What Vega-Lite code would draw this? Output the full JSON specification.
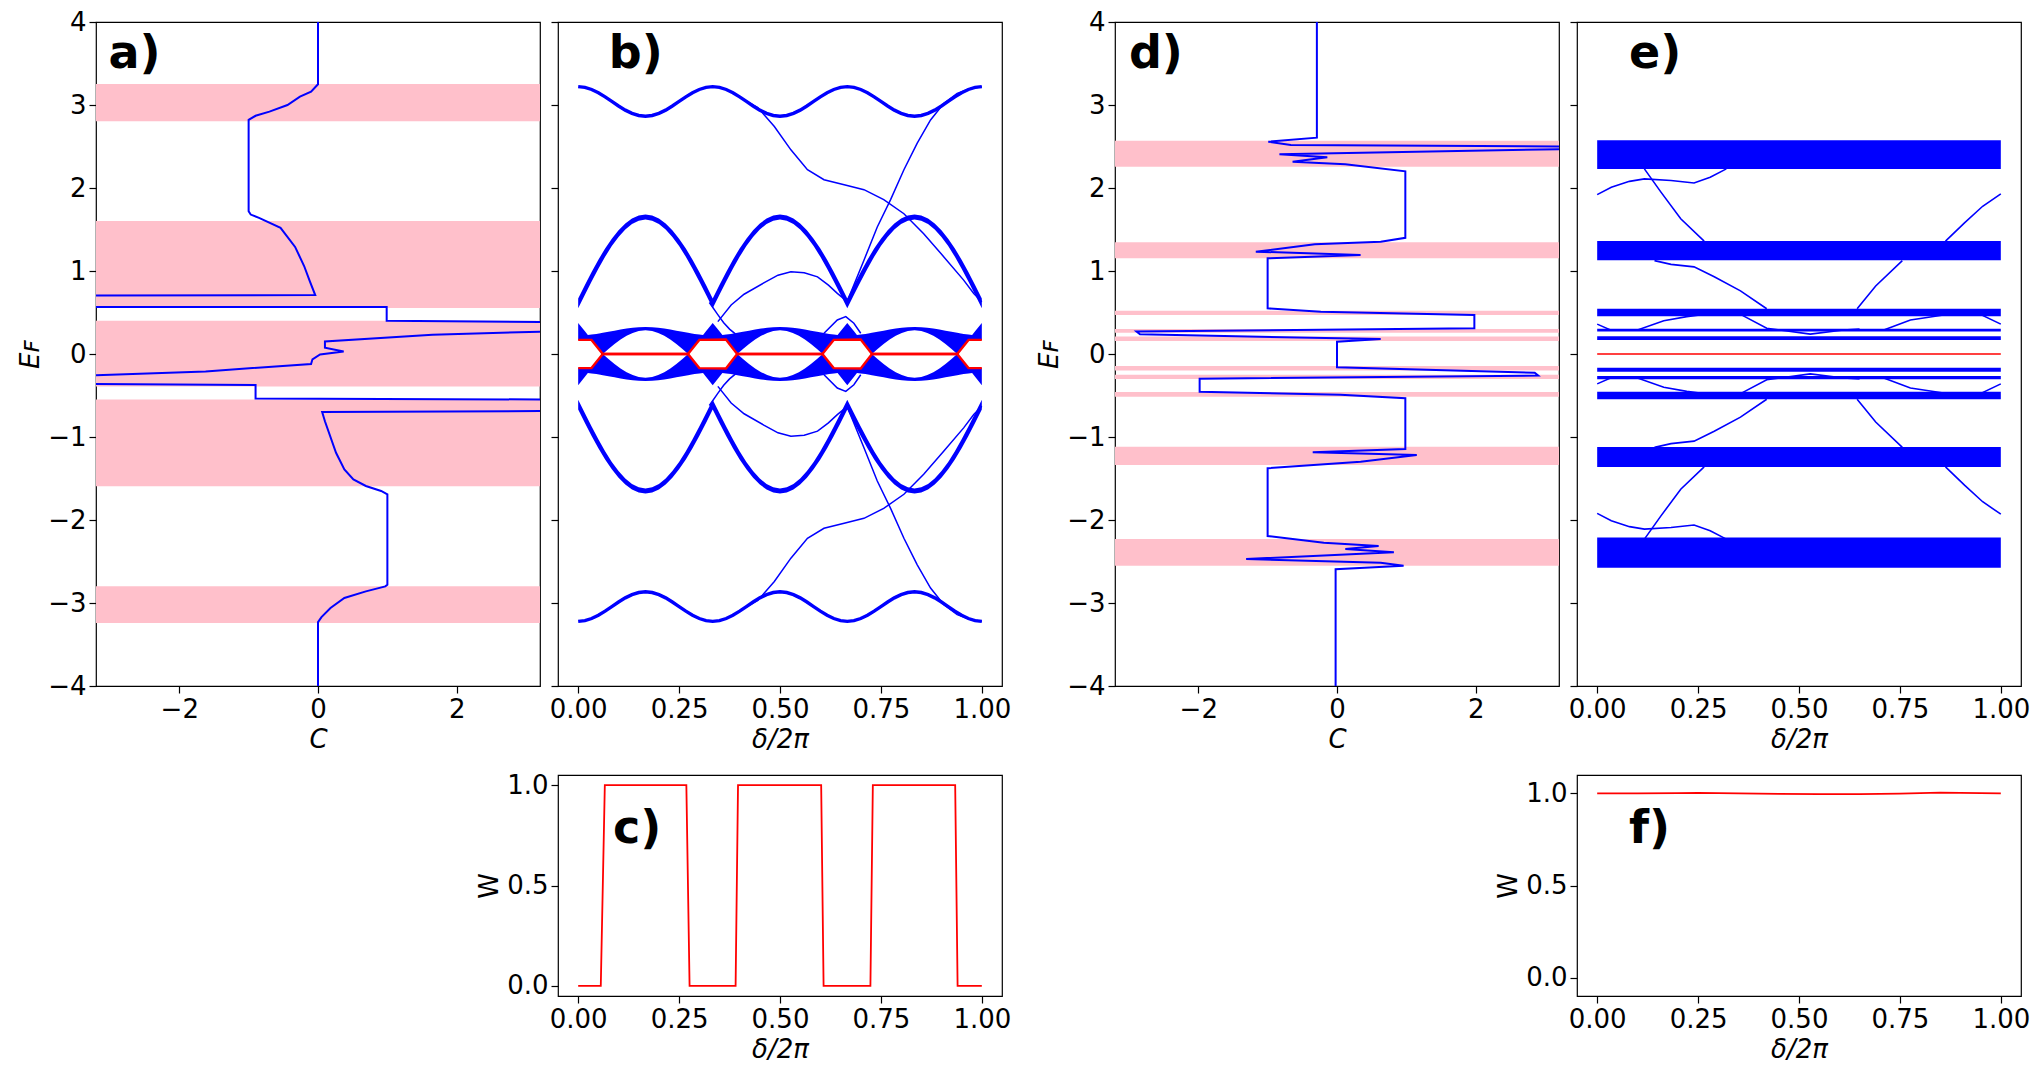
{
"$schema": "https://vega.github.io/schema/vega-lite/v6.json",
"background": "white",
"padding": {"left": 17, "top": 8, "right": 5, "bottom": 5},
"config": {
 "font": "DejaVu Sans",
 "view": {"stroke": "#000000", "strokeWidth": 1.2},
 "axis": {"domain": false, "grid": false, "ticks": true, "tickColor": "#000000", "tickSize": 7, "tickWidth": 1.2, "labelFont": "DejaVu Sans", "labelFontSize": 26, "labelColor": "#000000", "labelPadding": 3, "labelFlush": false, "labelOverlap": false, "labelExpr": "replace(datum.label, '-', '−')", "titleFont": "DejaVu Sans", "titleFontSize": 26, "titleFontWeight": "normal", "titleColor": "#000000", "titlePadding": 4}
},
"datasets": {
 "apink": [{"lo":2.805,"hi":3.254},{"lo":0.554,"hi":1.603},{"lo":-0.391,"hi":0.402},{"lo":-1.592,"hi":-0.548},{"lo":-3.242,"hi":-2.799}],
 "aline": [
  {"i":1,"C":0,"E":4},{"i":2,"C":0,"E":3.25},{"i":3,"C":-0.1,"E":3.16},{"i":4,"C":-0.26,"E":3.1},{"i":5,"C":-0.44,"E":3.0},{"i":6,"C":-0.7,"E":2.92},{"i":7,"C":-0.9,"E":2.87},{"i":8,"C":-1.0,"E":2.82},{"i":9,"C":-1.0,"E":1.72},{"i":10,"C":-0.97,"E":1.68},{"i":11,"C":-0.85,"E":1.64},{"i":12,"C":-0.54,"E":1.52},{"i":13,"C":-0.33,"E":1.29},{"i":14,"C":-0.2,"E":1.06},{"i":15,"C":-0.12,"E":0.88},{"i":16,"C":-0.04,"E":0.71},{"i":17,"C":-3.2,"E":0.705},{"i":18,"C":-10,"E":0.705},{"i":19,"C":-10,"E":0.567},{"i":20,"C":-3.2,"E":0.567},{"i":21,"C":0.99,"E":0.565},{"i":22,"C":0.99,"E":0.4},{"i":23,"C":3.2,"E":0.385},{"i":24,"C":10,"E":0.385},{"i":25,"C":10,"E":0.268},{"i":26,"C":3.2,"E":0.268},{"i":27,"C":1.65,"E":0.233},{"i":28,"C":0.1,"E":0.152},{"i":29,"C":0.1,"E":0.076},{"i":30,"C":0.37,"E":0.03},{"i":31,"C":0.03,"E":-0.006},{"i":32,"C":-0.08,"E":-0.064},{"i":33,"C":-0.1,"E":-0.12},{"i":34,"C":-1.62,"E":-0.21},{"i":35,"C":-3.2,"E":-0.257},{"i":36,"C":-10,"E":-0.257},{"i":37,"C":-10,"E":-0.362},{"i":38,"C":-3.2,"E":-0.362},{"i":39,"C":-0.9,"E":-0.373},{"i":40,"C":-0.9,"E":-0.536},{"i":41,"C":3.2,"E":-0.548},{"i":42,"C":10,"E":-0.548},{"i":43,"C":10,"E":-0.688},{"i":44,"C":3.2,"E":-0.688},{"i":45,"C":0.06,"E":-0.7},{"i":46,"C":0.1,"E":-0.81},{"i":47,"C":0.26,"E":-1.19},{"i":48,"C":0.38,"E":-1.39},{"i":49,"C":0.51,"E":-1.51},{"i":50,"C":0.69,"E":-1.59},{"i":51,"C":0.91,"E":-1.65},{"i":52,"C":1.0,"E":-1.69},{"i":53,"C":1.0,"E":-2.78},{"i":54,"C":0.97,"E":-2.8},{"i":55,"C":0.69,"E":-2.86},{"i":56,"C":0.38,"E":-2.94},{"i":57,"C":0.18,"E":-3.06},{"i":58,"C":0.05,"E":-3.17},{"i":59,"C":0,"E":-3.23},{"i":60,"C":0,"E":-4}
 ],
 "bands": [
  {"d":0,"b1":3.221,"l2":0.55,"h2":0.67,"b5":-3.221,"l4":-0.67,"h4":-0.55},
  {"d":0.0167,"b1":3.212,"l2":0.714,"h2":0.832,"b5":-3.212,"l4":-0.832,"h4":-0.714},
  {"d":0.0333,"b1":3.187,"l2":0.874,"h2":0.988,"b5":-3.187,"l4":-0.988,"h4":-0.874},
  {"d":0.05,"b1":3.148,"l2":1.028,"h2":1.136,"b5":-3.148,"l4":-1.136,"h4":-1.028},
  {"d":0.0667,"b1":3.098,"l2":1.171,"h2":1.271,"b5":-3.098,"l4":-1.271,"h4":-1.171},
  {"d":0.0833,"b1":3.043,"l2":1.3,"h2":1.39,"b5":-3.043,"l4":-1.39,"h4":-1.3},
  {"d":0.1,"b1":2.988,"l2":1.411,"h2":1.491,"b5":-2.988,"l4":-1.491,"h4":-1.411},
  {"d":0.1167,"b1":2.938,"l2":1.501,"h2":1.573,"b5":-2.938,"l4":-1.573,"h4":-1.501},
  {"d":0.1333,"b1":2.899,"l2":1.566,"h2":1.632,"b5":-2.899,"l4":-1.632,"h4":-1.566},
  {"d":0.15,"b1":2.874,"l2":1.606,"h2":1.668,"b5":-2.874,"l4":-1.668,"h4":-1.606},
  {"d":0.1667,"b1":2.865,"l2":1.62,"h2":1.68,"b5":-2.865,"l4":-1.68,"h4":-1.62},
  {"d":0.1833,"b1":2.874,"l2":1.606,"h2":1.668,"b5":-2.874,"l4":-1.668,"h4":-1.606},
  {"d":0.2,"b1":2.899,"l2":1.566,"h2":1.632,"b5":-2.899,"l4":-1.632,"h4":-1.566},
  {"d":0.2167,"b1":2.938,"l2":1.501,"h2":1.573,"b5":-2.938,"l4":-1.573,"h4":-1.501},
  {"d":0.2333,"b1":2.988,"l2":1.411,"h2":1.491,"b5":-2.988,"l4":-1.491,"h4":-1.411},
  {"d":0.25,"b1":3.043,"l2":1.3,"h2":1.39,"b5":-3.043,"l4":-1.39,"h4":-1.3},
  {"d":0.2667,"b1":3.098,"l2":1.171,"h2":1.271,"b5":-3.098,"l4":-1.271,"h4":-1.171},
  {"d":0.2833,"b1":3.148,"l2":1.028,"h2":1.136,"b5":-3.148,"l4":-1.136,"h4":-1.028},
  {"d":0.3,"b1":3.187,"l2":0.874,"h2":0.988,"b5":-3.187,"l4":-0.988,"h4":-0.874},
  {"d":0.3167,"b1":3.212,"l2":0.714,"h2":0.832,"b5":-3.212,"l4":-0.832,"h4":-0.714},
  {"d":0.3333,"b1":3.221,"l2":0.55,"h2":0.67,"b5":-3.221,"l4":-0.67,"h4":-0.55},
  {"d":0.35,"b1":3.212,"l2":0.714,"h2":0.832,"b5":-3.212,"l4":-0.832,"h4":-0.714},
  {"d":0.3667,"b1":3.187,"l2":0.874,"h2":0.988,"b5":-3.187,"l4":-0.988,"h4":-0.874},
  {"d":0.3833,"b1":3.148,"l2":1.028,"h2":1.136,"b5":-3.148,"l4":-1.136,"h4":-1.028},
  {"d":0.4,"b1":3.098,"l2":1.171,"h2":1.271,"b5":-3.098,"l4":-1.271,"h4":-1.171},
  {"d":0.4167,"b1":3.043,"l2":1.3,"h2":1.39,"b5":-3.043,"l4":-1.39,"h4":-1.3},
  {"d":0.4333,"b1":2.988,"l2":1.411,"h2":1.491,"b5":-2.988,"l4":-1.491,"h4":-1.411},
  {"d":0.45,"b1":2.938,"l2":1.501,"h2":1.573,"b5":-2.938,"l4":-1.573,"h4":-1.501},
  {"d":0.4667,"b1":2.899,"l2":1.566,"h2":1.632,"b5":-2.899,"l4":-1.632,"h4":-1.566},
  {"d":0.4833,"b1":2.874,"l2":1.606,"h2":1.668,"b5":-2.874,"l4":-1.668,"h4":-1.606},
  {"d":0.5,"b1":2.865,"l2":1.62,"h2":1.68,"b5":-2.865,"l4":-1.68,"h4":-1.62},
  {"d":0.5167,"b1":2.874,"l2":1.606,"h2":1.668,"b5":-2.874,"l4":-1.668,"h4":-1.606},
  {"d":0.5333,"b1":2.899,"l2":1.566,"h2":1.632,"b5":-2.899,"l4":-1.632,"h4":-1.566},
  {"d":0.55,"b1":2.938,"l2":1.501,"h2":1.573,"b5":-2.938,"l4":-1.573,"h4":-1.501},
  {"d":0.5667,"b1":2.988,"l2":1.411,"h2":1.491,"b5":-2.988,"l4":-1.491,"h4":-1.411},
  {"d":0.5833,"b1":3.043,"l2":1.3,"h2":1.39,"b5":-3.043,"l4":-1.39,"h4":-1.3},
  {"d":0.6,"b1":3.098,"l2":1.171,"h2":1.271,"b5":-3.098,"l4":-1.271,"h4":-1.171},
  {"d":0.6167,"b1":3.148,"l2":1.028,"h2":1.136,"b5":-3.148,"l4":-1.136,"h4":-1.028},
  {"d":0.6333,"b1":3.187,"l2":0.874,"h2":0.988,"b5":-3.187,"l4":-0.988,"h4":-0.874},
  {"d":0.65,"b1":3.212,"l2":0.714,"h2":0.832,"b5":-3.212,"l4":-0.832,"h4":-0.714},
  {"d":0.6667,"b1":3.221,"l2":0.55,"h2":0.67,"b5":-3.221,"l4":-0.67,"h4":-0.55},
  {"d":0.6833,"b1":3.212,"l2":0.714,"h2":0.832,"b5":-3.212,"l4":-0.832,"h4":-0.714},
  {"d":0.7,"b1":3.187,"l2":0.874,"h2":0.988,"b5":-3.187,"l4":-0.988,"h4":-0.874},
  {"d":0.7167,"b1":3.148,"l2":1.028,"h2":1.136,"b5":-3.148,"l4":-1.136,"h4":-1.028},
  {"d":0.7333,"b1":3.098,"l2":1.171,"h2":1.271,"b5":-3.098,"l4":-1.271,"h4":-1.171},
  {"d":0.75,"b1":3.043,"l2":1.3,"h2":1.39,"b5":-3.043,"l4":-1.39,"h4":-1.3},
  {"d":0.7667,"b1":2.988,"l2":1.411,"h2":1.491,"b5":-2.988,"l4":-1.491,"h4":-1.411},
  {"d":0.7833,"b1":2.938,"l2":1.501,"h2":1.573,"b5":-2.938,"l4":-1.573,"h4":-1.501},
  {"d":0.8,"b1":2.899,"l2":1.566,"h2":1.632,"b5":-2.899,"l4":-1.632,"h4":-1.566},
  {"d":0.8167,"b1":2.874,"l2":1.606,"h2":1.668,"b5":-2.874,"l4":-1.668,"h4":-1.606},
  {"d":0.8333,"b1":2.865,"l2":1.62,"h2":1.68,"b5":-2.865,"l4":-1.68,"h4":-1.62},
  {"d":0.85,"b1":2.874,"l2":1.606,"h2":1.668,"b5":-2.874,"l4":-1.668,"h4":-1.606},
  {"d":0.8667,"b1":2.899,"l2":1.566,"h2":1.632,"b5":-2.899,"l4":-1.632,"h4":-1.566},
  {"d":0.8833,"b1":2.938,"l2":1.501,"h2":1.573,"b5":-2.938,"l4":-1.573,"h4":-1.501},
  {"d":0.9,"b1":2.988,"l2":1.411,"h2":1.491,"b5":-2.988,"l4":-1.491,"h4":-1.411},
  {"d":0.9167,"b1":3.043,"l2":1.3,"h2":1.39,"b5":-3.043,"l4":-1.39,"h4":-1.3},
  {"d":0.9333,"b1":3.098,"l2":1.171,"h2":1.271,"b5":-3.098,"l4":-1.271,"h4":-1.171},
  {"d":0.95,"b1":3.148,"l2":1.028,"h2":1.136,"b5":-3.148,"l4":-1.136,"h4":-1.028},
  {"d":0.9667,"b1":3.187,"l2":0.874,"h2":0.988,"b5":-3.187,"l4":-0.988,"h4":-0.874},
  {"d":0.9833,"b1":3.212,"l2":0.714,"h2":0.832,"b5":-3.212,"l4":-0.832,"h4":-0.714},
  {"d":1,"b1":3.221,"l2":0.55,"h2":0.67,"b5":-3.221,"l4":-0.67,"h4":-0.55}
 ],
 "cband": [
  {"d":0,"lo":0.17,"hi":0.375,"nlo":-0.375,"nhi":-0.17},
  {"d":0.0167,"lo":0.17,"hi":0.274,"nlo":-0.274,"nhi":-0.17},
  {"d":0.024,"lo":0.17,"hi":0.23,"nlo":-0.23,"nhi":-0.17},
  {"d":0.033,"lo":0.17,"hi":0.234,"nlo":-0.234,"nhi":-0.17},
  {"d":0.045,"lo":0.097,"hi":0.242,"nlo":-0.242,"nhi":-0.097},
  {"d":0.055,"lo":0.036,"hi":0.25,"nlo":-0.25,"nhi":-0.036},
  {"d":0.061,"lo":0,"hi":0.255,"nlo":-0.255,"nhi":0},
  {"d":0.075,"lo":0.059,"hi":0.267,"nlo":-0.267,"nhi":-0.059},
  {"d":0.09,"lo":0.119,"hi":0.281,"nlo":-0.281,"nhi":-0.119},
  {"d":0.105,"lo":0.174,"hi":0.295,"nlo":-0.295,"nhi":-0.174},
  {"d":0.12,"lo":0.219,"hi":0.307,"nlo":-0.307,"nhi":-0.219},
  {"d":0.135,"lo":0.254,"hi":0.316,"nlo":-0.316,"nhi":-0.254},
  {"d":0.15,"lo":0.276,"hi":0.3225,"nlo":-0.3225,"nhi":-0.276},
  {"d":0.1667,"lo":0.285,"hi":0.325,"nlo":-0.325,"nhi":-0.285},
  {"d":0.1833,"lo":0.276,"hi":0.3225,"nlo":-0.3225,"nhi":-0.276},
  {"d":0.1983,"lo":0.254,"hi":0.316,"nlo":-0.316,"nhi":-0.254},
  {"d":0.2133,"lo":0.219,"hi":0.307,"nlo":-0.307,"nhi":-0.219},
  {"d":0.2283,"lo":0.174,"hi":0.295,"nlo":-0.295,"nhi":-0.174},
  {"d":0.2433,"lo":0.119,"hi":0.281,"nlo":-0.281,"nhi":-0.119},
  {"d":0.2583,"lo":0.059,"hi":0.267,"nlo":-0.267,"nhi":-0.059},
  {"d":0.2723,"lo":0,"hi":0.255,"nlo":-0.255,"nhi":0},
  {"d":0.2783,"lo":0.036,"hi":0.25,"nlo":-0.25,"nhi":-0.036},
  {"d":0.2883,"lo":0.097,"hi":0.242,"nlo":-0.242,"nhi":-0.097},
  {"d":0.3003,"lo":0.17,"hi":0.234,"nlo":-0.234,"nhi":-0.17},
  {"d":0.3093,"lo":0.17,"hi":0.23,"nlo":-0.23,"nhi":-0.17},
  {"d":0.3166,"lo":0.17,"hi":0.274,"nlo":-0.274,"nhi":-0.17},
  {"d":0.3333,"lo":0.17,"hi":0.375,"nlo":-0.375,"nhi":-0.17},
  {"d":0.35,"lo":0.17,"hi":0.274,"nlo":-0.274,"nhi":-0.17},
  {"d":0.3573,"lo":0.17,"hi":0.23,"nlo":-0.23,"nhi":-0.17},
  {"d":0.3663,"lo":0.17,"hi":0.234,"nlo":-0.234,"nhi":-0.17},
  {"d":0.3783,"lo":0.097,"hi":0.242,"nlo":-0.242,"nhi":-0.097},
  {"d":0.3883,"lo":0.036,"hi":0.25,"nlo":-0.25,"nhi":-0.036},
  {"d":0.3943,"lo":0,"hi":0.255,"nlo":-0.255,"nhi":0},
  {"d":0.4083,"lo":0.059,"hi":0.267,"nlo":-0.267,"nhi":-0.059},
  {"d":0.4233,"lo":0.119,"hi":0.281,"nlo":-0.281,"nhi":-0.119},
  {"d":0.4383,"lo":0.174,"hi":0.295,"nlo":-0.295,"nhi":-0.174},
  {"d":0.4533,"lo":0.219,"hi":0.307,"nlo":-0.307,"nhi":-0.219},
  {"d":0.4683,"lo":0.254,"hi":0.316,"nlo":-0.316,"nhi":-0.254},
  {"d":0.4833,"lo":0.276,"hi":0.3225,"nlo":-0.3225,"nhi":-0.276},
  {"d":0.5,"lo":0.285,"hi":0.325,"nlo":-0.325,"nhi":-0.285},
  {"d":0.5167,"lo":0.276,"hi":0.3225,"nlo":-0.3225,"nhi":-0.276},
  {"d":0.5317,"lo":0.254,"hi":0.316,"nlo":-0.316,"nhi":-0.254},
  {"d":0.5467,"lo":0.219,"hi":0.307,"nlo":-0.307,"nhi":-0.219},
  {"d":0.5617,"lo":0.174,"hi":0.295,"nlo":-0.295,"nhi":-0.174},
  {"d":0.5767,"lo":0.119,"hi":0.281,"nlo":-0.281,"nhi":-0.119},
  {"d":0.5917,"lo":0.059,"hi":0.267,"nlo":-0.267,"nhi":-0.059},
  {"d":0.6057,"lo":0,"hi":0.255,"nlo":-0.255,"nhi":0},
  {"d":0.6117,"lo":0.036,"hi":0.25,"nlo":-0.25,"nhi":-0.036},
  {"d":0.6217,"lo":0.097,"hi":0.242,"nlo":-0.242,"nhi":-0.097},
  {"d":0.6337,"lo":0.17,"hi":0.234,"nlo":-0.234,"nhi":-0.17},
  {"d":0.6427,"lo":0.17,"hi":0.23,"nlo":-0.23,"nhi":-0.17},
  {"d":0.65,"lo":0.17,"hi":0.274,"nlo":-0.274,"nhi":-0.17},
  {"d":0.6667,"lo":0.17,"hi":0.375,"nlo":-0.375,"nhi":-0.17},
  {"d":0.6834,"lo":0.17,"hi":0.274,"nlo":-0.274,"nhi":-0.17},
  {"d":0.6907,"lo":0.17,"hi":0.23,"nlo":-0.23,"nhi":-0.17},
  {"d":0.6997,"lo":0.17,"hi":0.234,"nlo":-0.234,"nhi":-0.17},
  {"d":0.7117,"lo":0.097,"hi":0.242,"nlo":-0.242,"nhi":-0.097},
  {"d":0.7217,"lo":0.036,"hi":0.25,"nlo":-0.25,"nhi":-0.036},
  {"d":0.7277,"lo":0,"hi":0.255,"nlo":-0.255,"nhi":0},
  {"d":0.7417,"lo":0.059,"hi":0.267,"nlo":-0.267,"nhi":-0.059},
  {"d":0.7567,"lo":0.119,"hi":0.281,"nlo":-0.281,"nhi":-0.119},
  {"d":0.7717,"lo":0.174,"hi":0.295,"nlo":-0.295,"nhi":-0.174},
  {"d":0.7867,"lo":0.219,"hi":0.307,"nlo":-0.307,"nhi":-0.219},
  {"d":0.8017,"lo":0.254,"hi":0.316,"nlo":-0.316,"nhi":-0.254},
  {"d":0.8167,"lo":0.276,"hi":0.3225,"nlo":-0.3225,"nhi":-0.276},
  {"d":0.8334,"lo":0.285,"hi":0.325,"nlo":-0.325,"nhi":-0.285},
  {"d":0.85,"lo":0.276,"hi":0.3225,"nlo":-0.3225,"nhi":-0.276},
  {"d":0.865,"lo":0.254,"hi":0.316,"nlo":-0.316,"nhi":-0.254},
  {"d":0.88,"lo":0.219,"hi":0.307,"nlo":-0.307,"nhi":-0.219},
  {"d":0.895,"lo":0.174,"hi":0.295,"nlo":-0.295,"nhi":-0.174},
  {"d":0.91,"lo":0.119,"hi":0.281,"nlo":-0.281,"nhi":-0.119},
  {"d":0.925,"lo":0.059,"hi":0.267,"nlo":-0.267,"nhi":-0.059},
  {"d":0.939,"lo":0,"hi":0.255,"nlo":-0.255,"nhi":0},
  {"d":0.945,"lo":0.036,"hi":0.25,"nlo":-0.25,"nhi":-0.036},
  {"d":0.955,"lo":0.097,"hi":0.242,"nlo":-0.242,"nhi":-0.097},
  {"d":0.967,"lo":0.17,"hi":0.234,"nlo":-0.234,"nhi":-0.17},
  {"d":0.976,"lo":0.17,"hi":0.23,"nlo":-0.23,"nhi":-0.17},
  {"d":0.9833,"lo":0.17,"hi":0.274,"nlo":-0.274,"nhi":-0.17},
  {"d":1,"lo":0.17,"hi":0.375,"nlo":-0.375,"nhi":-0.17}
 ],
 "bthin": [
  {"id":"T1","d":0.405,"E":3.08},{"id":"T1","d":0.445,"E":2.97},{"id":"T1","d":0.486,"E":2.74},{"id":"T1","d":0.527,"E":2.46},{"id":"T1","d":0.568,"E":2.22},{"id":"T1","d":0.609,"E":2.1},{"id":"T1","d":0.659,"E":2.04},{"id":"T1","d":0.708,"E":1.98},{"id":"T1","d":0.757,"E":1.86},{"id":"T1","d":0.807,"E":1.69},{"id":"T1","d":0.856,"E":1.45},{"id":"T1","d":0.906,"E":1.17},{"id":"T1","d":0.955,"E":0.89},{"id":"T1","d":0.98,"E":0.73},{"id":"T1","d":1.0,"E":0.63},
  {"id":"T2","d":0.667,"E":0.64},{"id":"T2","d":0.708,"E":1.13},{"id":"T2","d":0.741,"E":1.53},{"id":"T2","d":0.774,"E":1.86},{"id":"T2","d":0.807,"E":2.22},{"id":"T2","d":0.84,"E":2.54},{"id":"T2","d":0.873,"E":2.82},{"id":"T2","d":0.906,"E":3.02},{"id":"T2","d":0.939,"E":3.14},{"id":"T2","d":0.972,"E":3.2},{"id":"T2","d":1.0,"E":3.22},
  {"id":"L1","d":0.346,"E":0.39},{"id":"L1","d":0.379,"E":0.59},{"id":"L1","d":0.411,"E":0.72},{"id":"L1","d":0.461,"E":0.86},{"id":"L1","d":0.495,"E":0.95},{"id":"L1","d":0.527,"E":0.99},{"id":"L1","d":0.56,"E":0.98},{"id":"L1","d":0.593,"E":0.93},{"id":"L1","d":0.62,"E":0.83},{"id":"L1","d":0.642,"E":0.73},{"id":"L1","d":0.667,"E":0.63},
  {"id":"L2","d":0.609,"E":0.25},{"id":"L2","d":0.642,"E":0.41},{"id":"L2","d":0.663,"E":0.45},{"id":"L2","d":0.683,"E":0.37},{"id":"L2","d":0.7,"E":0.25},
  {"id":"L3","d":0.325,"E":0.62},{"id":"L3","d":0.345,"E":0.48},{"id":"L3","d":0.36,"E":0.38},{"id":"L3","d":0.375,"E":0.3},{"id":"L3","d":0.39,"E":0.24},
  {"id":"T1m","d":0.405,"E":-3.08},{"id":"T1m","d":0.445,"E":-2.97},{"id":"T1m","d":0.486,"E":-2.74},{"id":"T1m","d":0.527,"E":-2.46},{"id":"T1m","d":0.568,"E":-2.22},{"id":"T1m","d":0.609,"E":-2.1},{"id":"T1m","d":0.659,"E":-2.04},{"id":"T1m","d":0.708,"E":-1.98},{"id":"T1m","d":0.757,"E":-1.86},{"id":"T1m","d":0.807,"E":-1.69},{"id":"T1m","d":0.856,"E":-1.45},{"id":"T1m","d":0.906,"E":-1.17},{"id":"T1m","d":0.955,"E":-0.89},{"id":"T1m","d":0.98,"E":-0.73},{"id":"T1m","d":1.0,"E":-0.63},
  {"id":"T2m","d":0.667,"E":-0.64},{"id":"T2m","d":0.708,"E":-1.13},{"id":"T2m","d":0.741,"E":-1.53},{"id":"T2m","d":0.774,"E":-1.86},{"id":"T2m","d":0.807,"E":-2.22},{"id":"T2m","d":0.84,"E":-2.54},{"id":"T2m","d":0.873,"E":-2.82},{"id":"T2m","d":0.906,"E":-3.02},{"id":"T2m","d":0.939,"E":-3.14},{"id":"T2m","d":0.972,"E":-3.2},{"id":"T2m","d":1.0,"E":-3.22},
  {"id":"L1m","d":0.346,"E":-0.39},{"id":"L1m","d":0.379,"E":-0.59},{"id":"L1m","d":0.411,"E":-0.72},{"id":"L1m","d":0.461,"E":-0.86},{"id":"L1m","d":0.495,"E":-0.95},{"id":"L1m","d":0.527,"E":-0.99},{"id":"L1m","d":0.56,"E":-0.98},{"id":"L1m","d":0.593,"E":-0.93},{"id":"L1m","d":0.62,"E":-0.83},{"id":"L1m","d":0.642,"E":-0.73},{"id":"L1m","d":0.667,"E":-0.63},
  {"id":"L2m","d":0.609,"E":-0.25},{"id":"L2m","d":0.642,"E":-0.41},{"id":"L2m","d":0.663,"E":-0.45},{"id":"L2m","d":0.683,"E":-0.37},{"id":"L2m","d":0.7,"E":-0.25},
  {"id":"L3m","d":0.325,"E":-0.62},{"id":"L3m","d":0.345,"E":-0.48},{"id":"L3m","d":0.36,"E":-0.38},{"id":"L3m","d":0.375,"E":-0.3},{"id":"L3m","d":0.39,"E":-0.24}
 ],
 "bred": [
  {"id":"up","d":0,"E":0.17},{"id":"up","d":0.033,"E":0.17},{"id":"up","d":0.061,"E":0},{"id":"up","d":0.272,"E":0},{"id":"up","d":0.3,"E":0.17},{"id":"up","d":0.366,"E":0.175},{"id":"up","d":0.394,"E":0},{"id":"up","d":0.605,"E":0},{"id":"up","d":0.633,"E":0.17},{"id":"up","d":0.7,"E":0.175},{"id":"up","d":0.728,"E":0},{"id":"up","d":0.939,"E":0},{"id":"up","d":0.967,"E":0.17},{"id":"up","d":1,"E":0.17},
  {"id":"dn","d":0,"E":-0.17},{"id":"dn","d":0.033,"E":-0.17},{"id":"dn","d":0.061,"E":0},{"id":"dn","d":0.272,"E":0},{"id":"dn","d":0.3,"E":-0.17},{"id":"dn","d":0.366,"E":-0.175},{"id":"dn","d":0.394,"E":0},{"id":"dn","d":0.605,"E":0},{"id":"dn","d":0.633,"E":-0.17},{"id":"dn","d":0.7,"E":-0.175},{"id":"dn","d":0.728,"E":0},{"id":"dn","d":0.939,"E":0},{"id":"dn","d":0.967,"E":-0.17},{"id":"dn","d":1,"E":-0.17}
 ],
 "cW": [{"d":0,"W":0},{"d":0.056,"W":0},{"d":0.066,"W":1},{"d":0.268,"W":1},{"d":0.276,"W":0},{"d":0.39,"W":0},{"d":0.396,"W":1},{"d":0.602,"W":1},{"d":0.608,"W":0},{"d":0.724,"W":0},{"d":0.73,"W":1},{"d":0.934,"W":1},{"d":0.94,"W":0},{"d":1,"W":0}],
 "dpink": [{"lo":2.257,"hi":2.57},{"lo":1.153,"hi":1.345},{"lo":0.47,"hi":0.52},{"lo":0.257,"hi":0.3},{"lo":0.157,"hi":0.21},{"lo":-0.2,"hi":-0.145},{"lo":-0.3,"hi":-0.25},{"lo":-0.514,"hi":-0.458},{"lo":-1.337,"hi":-1.116},{"lo":-2.55,"hi":-2.229}],
 "dline": [
  {"i":1,"C":-0.29,"E":4},{"i":2,"C":-0.29,"E":2.606},{"i":3,"C":-0.99,"E":2.558},{"i":4,"C":-0.665,"E":2.518},{"i":5,"C":3.2,"E":2.5},{"i":6,"C":10,"E":2.5},{"i":7,"C":10,"E":2.467},{"i":8,"C":3.2,"E":2.467},{"i":9,"C":-0.83,"E":2.406},{"i":10,"C":-0.14,"E":2.37},{"i":11,"C":-0.64,"E":2.317},{"i":12,"C":0.12,"E":2.285},{"i":13,"C":0.985,"E":2.201},{"i":14,"C":0.985,"E":1.4},{"i":15,"C":0.63,"E":1.353},{"i":16,"C":-0.32,"E":1.321},{"i":17,"C":-1.17,"E":1.233},{"i":18,"C":0.34,"E":1.193},{"i":19,"C":-1.0,"E":1.153},{"i":20,"C":-1.0,"E":0.55},{"i":21,"C":-0.234,"E":0.51},{"i":22,"C":1.98,"E":0.47},{"i":23,"C":1.98,"E":0.31},{"i":24,"C":-2.89,"E":0.27},{"i":25,"C":-2.84,"E":0.237},{"i":26,"C":0.63,"E":0.18},{"i":27,"C":0.0,"E":0.148},{"i":28,"C":0.0,"E":-0.16},{"i":29,"C":2.85,"E":-0.225},{"i":30,"C":2.9,"E":-0.26},{"i":31,"C":-1.98,"E":-0.297},{"i":32,"C":-1.98,"E":-0.454},{"i":33,"C":0.05,"E":-0.492},{"i":34,"C":0.985,"E":-0.534},{"i":35,"C":0.985,"E":-1.145},{"i":36,"C":-0.35,"E":-1.185},{"i":37,"C":1.15,"E":-1.217},{"i":38,"C":0.34,"E":-1.297},{"i":39,"C":-1.0,"E":-1.377},{"i":40,"C":-1.0,"E":-2.193},{"i":41,"C":-0.19,"E":-2.273},{"i":42,"C":0.6,"E":-2.313},{"i":43,"C":0.12,"E":-2.35},{"i":44,"C":0.82,"E":-2.389},{"i":45,"C":-1.31,"E":-2.47},{"i":46,"C":0.63,"E":-2.514},{"i":47,"C":0.96,"E":-2.55},{"i":48,"C":-0.02,"E":-2.594},{"i":49,"C":-0.02,"E":-4}
 ],
 "ebands": [{"lo":2.23,"hi":2.575},{"lo":1.13,"hi":1.36},{"lo":0.455,"hi":0.545},{"lo":0.27,"hi":0.305},{"lo":0.17,"hi":0.215},{"lo":-0.215,"hi":-0.165},{"lo":-0.305,"hi":-0.265},{"lo":-0.545,"hi":-0.455},{"lo":-1.36,"hi":-1.12},{"lo":-2.575,"hi":-2.21}],
 "ethin": [
  {"id":"U1","d":0,"E":1.92},{"id":"U1","d":0.035,"E":2.01},{"id":"U1","d":0.08,"E":2.08},{"id":"U1","d":0.117,"E":2.11},{"id":"U1","d":0.183,"E":2.09},{"id":"U1","d":0.24,"E":2.06},{"id":"U1","d":0.28,"E":2.13},{"id":"U1","d":0.32,"E":2.23},
  {"id":"U2","d":0.117,"E":2.23},{"id":"U2","d":0.158,"E":1.95},{"id":"U2","d":0.207,"E":1.63},{"id":"U2","d":0.265,"E":1.36},
  {"id":"U3","d":0.863,"E":1.36},{"id":"U3","d":0.91,"E":1.58},{"id":"U3","d":0.955,"E":1.78},{"id":"U3","d":1.0,"E":1.93},
  {"id":"U4","d":0.142,"E":1.125},{"id":"U4","d":0.183,"E":1.08},{"id":"U4","d":0.24,"E":1.05},{"id":"U4","d":0.29,"E":0.93},{"id":"U4","d":0.355,"E":0.76},{"id":"U4","d":0.42,"E":0.545},
  {"id":"U5","d":0.644,"E":0.545},{"id":"U5","d":0.69,"E":0.82},{"id":"U5","d":0.756,"E":1.125},
  {"id":"U6","d":0,"E":0.36},{"id":"U6","d":0.033,"E":0.29},{"id":"U6","d":0.1,"E":0.29},{"id":"U6","d":0.165,"E":0.4},{"id":"U6","d":0.222,"E":0.45},{"id":"U6","d":0.3,"E":0.5},
  {"id":"U7","d":0.354,"E":0.48},{"id":"U7","d":0.42,"E":0.31},{"id":"U7","d":0.528,"E":0.24},{"id":"U7","d":0.61,"E":0.29},{"id":"U7","d":0.65,"E":0.3},
  {"id":"U8","d":0.71,"E":0.29},{"id":"U8","d":0.776,"E":0.41},{"id":"U8","d":0.858,"E":0.47},{"id":"U8","d":0.94,"E":0.5},{"id":"U8","d":1.0,"E":0.36},
  {"id":"D1","d":0,"E":-1.92},{"id":"D1","d":0.035,"E":-2.01},{"id":"D1","d":0.08,"E":-2.08},{"id":"D1","d":0.117,"E":-2.11},{"id":"D1","d":0.183,"E":-2.09},{"id":"D1","d":0.24,"E":-2.06},{"id":"D1","d":0.28,"E":-2.13},{"id":"D1","d":0.32,"E":-2.23},
  {"id":"D2","d":0.117,"E":-2.23},{"id":"D2","d":0.158,"E":-1.95},{"id":"D2","d":0.207,"E":-1.63},{"id":"D2","d":0.265,"E":-1.36},
  {"id":"D3","d":0.863,"E":-1.36},{"id":"D3","d":0.91,"E":-1.58},{"id":"D3","d":0.955,"E":-1.78},{"id":"D3","d":1.0,"E":-1.93},
  {"id":"D4","d":0.142,"E":-1.125},{"id":"D4","d":0.183,"E":-1.08},{"id":"D4","d":0.24,"E":-1.05},{"id":"D4","d":0.29,"E":-0.93},{"id":"D4","d":0.355,"E":-0.76},{"id":"D4","d":0.42,"E":-0.545},
  {"id":"D5","d":0.644,"E":-0.545},{"id":"D5","d":0.69,"E":-0.82},{"id":"D5","d":0.756,"E":-1.125},
  {"id":"D6","d":0,"E":-0.36},{"id":"D6","d":0.033,"E":-0.29},{"id":"D6","d":0.1,"E":-0.29},{"id":"D6","d":0.165,"E":-0.4},{"id":"D6","d":0.222,"E":-0.45},{"id":"D6","d":0.3,"E":-0.5},
  {"id":"D7","d":0.354,"E":-0.48},{"id":"D7","d":0.42,"E":-0.31},{"id":"D7","d":0.528,"E":-0.24},{"id":"D7","d":0.61,"E":-0.29},{"id":"D7","d":0.65,"E":-0.3},
  {"id":"D8","d":0.71,"E":-0.29},{"id":"D8","d":0.776,"E":-0.41},{"id":"D8","d":0.858,"E":-0.47},{"id":"D8","d":0.94,"E":-0.5},{"id":"D8","d":1.0,"E":-0.36}
 ],
 "fW": [{"d":0,"W":1.0},{"d":0.1,"W":1.0},{"d":0.2,"W":1.002},{"d":0.25,"W":1.003},{"d":0.35,"W":1.0},{"d":0.45,"W":0.998},{"d":0.55,"W":0.996},{"d":0.65,"W":0.996},{"d":0.75,"W":0.999},{"d":0.85,"W":1.004},{"d":0.9,"W":1.003},{"d":1,"W":1.0}],
 "blank": [{"k": 0}]
},
"bounds": "flush",
"align": "each",
"columns": 5,
"spacing": {"row": 89, "column": 18},
"concat": [
  {"width": 444, "height": 664, "layer": [
   {"data": {"name": "apink"}, "mark": {"type": "rect", "color": "#ffc0cb"},
    "encoding": {"y": {"field": "lo", "type": "quantitative", "scale": {"domain": [-4, 4], "nice": false}, "axis": {"values": [-4,-3,-2,-1,0,1,2,3,4], "format": "d", "title": "Eꜰ", "titleFontStyle": "italic"}}, "y2": {"field": "hi"}}},
   {"data": {"name": "aline"}, "mark": {"type": "line", "color": "#0000ff", "strokeWidth": 2, "clip": true},
    "encoding": {"x": {"field": "C", "type": "quantitative", "scale": {"domain": [-3.2, 3.2], "nice": false, "zero": false}, "axis": {"values": [-2, 0, 2], "format": "d", "title": "C", "titleFontStyle": "italic"}},
     "y": {"field": "E", "type": "quantitative", "scale": {"domain": [-4, 4], "nice": false}, "axis": {"values": [-4,-3,-2,-1,0,1,2,3,4], "format": "d", "title": "Eꜰ", "titleFontStyle": "italic"}},
     "order": {"field": "i", "type": "quantitative"}}},
   {"data": {"values": [{"C": -3.02, "E": 3.62, "t": "a)"}]}, "mark": {"type": "text", "font": "DejaVu Sans", "fontWeight": "bold", "fontSize": 46, "align": "left", "baseline": "middle", "color": "#000000"},
    "encoding": {"x": {"field": "C", "type": "quantitative"}, "y": {"field": "E", "type": "quantitative"}, "text": {"field": "t"}}}
  ]},
  {"width": 444, "height": 664, "layer": [
    {"data": {"name": "bands"}, "mark": {"type": "line", "color": "#0000ff", "strokeWidth": 3.4},
     "encoding": {"x": {"field": "d", "type": "quantitative", "scale": {"domain": [-0.05, 1.05], "nice": false, "zero": false}, "axis": {"values": [0, 0.25, 0.5, 0.75, 1], "format": ".2f", "title": "δ/2π", "titleFontStyle": "italic"}},
      "y": {"field": "b1", "type": "quantitative", "scale": {"domain": [-4, 4], "nice": false}, "axis": {"values": [-4,-3,-2,-1,0,1,2,3,4], "labels": false, "title": null}}}},
    {"data": {"name": "bands"}, "mark": {"type": "line", "color": "#0000ff", "strokeWidth": 3.4},
     "encoding": {"x": {"field": "d", "type": "quantitative"}, "y": {"field": "b5", "type": "quantitative", "scale": {"domain": [-4, 4], "nice": false}, "axis": {"values": [-4,-3,-2,-1,0,1,2,3,4], "labels": false, "title": null}}}},
    {"data": {"name": "bands"}, "mark": {"type": "area", "color": "#0000ff", "opacity": 1},
     "encoding": {"x": {"field": "d", "type": "quantitative"}, "y": {"field": "l2", "type": "quantitative", "scale": {"domain": [-4, 4], "nice": false}, "axis": {"values": [-4,-3,-2,-1,0,1,2,3,4], "labels": false, "title": null}}, "y2": {"field": "h2"}}},
    {"data": {"name": "bands"}, "mark": {"type": "area", "color": "#0000ff", "opacity": 1},
     "encoding": {"x": {"field": "d", "type": "quantitative"}, "y": {"field": "l4", "type": "quantitative", "scale": {"domain": [-4, 4], "nice": false}, "axis": {"values": [-4,-3,-2,-1,0,1,2,3,4], "labels": false, "title": null}}, "y2": {"field": "h4"}}},
    {"data": {"name": "cband"}, "mark": {"type": "area", "color": "#0000ff", "opacity": 1},
     "encoding": {"x": {"field": "d", "type": "quantitative"}, "y": {"field": "lo", "type": "quantitative", "scale": {"domain": [-4, 4], "nice": false}, "axis": {"values": [-4,-3,-2,-1,0,1,2,3,4], "labels": false, "title": null}}, "y2": {"field": "hi"}}},
    {"data": {"name": "cband"}, "mark": {"type": "area", "color": "#0000ff", "opacity": 1},
     "encoding": {"x": {"field": "d", "type": "quantitative"}, "y": {"field": "nlo", "type": "quantitative", "scale": {"domain": [-4, 4], "nice": false}, "axis": {"values": [-4,-3,-2,-1,0,1,2,3,4], "labels": false, "title": null}}, "y2": {"field": "nhi"}}},
    {"data": {"name": "bthin"}, "mark": {"type": "line", "color": "#0000ff", "strokeWidth": 1.5},
     "encoding": {"x": {"field": "d", "type": "quantitative"}, "y": {"field": "E", "type": "quantitative", "scale": {"domain": [-4, 4], "nice": false}, "axis": {"values": [-4,-3,-2,-1,0,1,2,3,4], "labels": false, "title": null}}, "detail": {"field": "id"}}},
    {"data": {"name": "bred"}, "mark": {"type": "line", "color": "#ff0000", "strokeWidth": 2.4},
     "encoding": {"x": {"field": "d", "type": "quantitative"}, "y": {"field": "E", "type": "quantitative", "scale": {"domain": [-4, 4], "nice": false}, "axis": {"values": [-4,-3,-2,-1,0,1,2,3,4], "labels": false, "title": null}}, "detail": {"field": "id"}}},
    {"data": {"values": [{"d": 0.076, "E": 3.62, "t": "b)"}]}, "mark": {"type": "text", "font": "DejaVu Sans", "fontWeight": "bold", "fontSize": 46, "align": "left", "baseline": "middle", "color": "#000000"},
     "encoding": {"x": {"field": "d", "type": "quantitative"}, "y": {"field": "E", "type": "quantitative", "scale": {"domain": [-4, 4], "nice": false}, "axis": {"values": [-4,-3,-2,-1,0,1,2,3,4], "labels": false, "title": null}}, "text": {"field": "t"}}}
  ]},
  {"width": 77, "height": 664, "view": {"stroke": null}, "data": {"name": "blank"}, "mark": {"type": "point", "opacity": 0}},
  {"width": 444, "height": 664, "layer": [
   {"data": {"name": "dpink"}, "mark": {"type": "rect", "color": "#ffc0cb"},
    "encoding": {"y": {"field": "lo", "type": "quantitative", "scale": {"domain": [-4, 4], "nice": false}, "axis": {"values": [-4,-3,-2,-1,0,1,2,3,4], "format": "d", "title": "Eꜰ", "titleFontStyle": "italic"}}, "y2": {"field": "hi"}}},
   {"data": {"name": "dline"}, "mark": {"type": "line", "color": "#0000ff", "strokeWidth": 2, "clip": true},
    "encoding": {"x": {"field": "C", "type": "quantitative", "scale": {"domain": [-3.2, 3.2], "nice": false, "zero": false}, "axis": {"values": [-2, 0, 2], "format": "d", "title": "C", "titleFontStyle": "italic"}},
     "y": {"field": "E", "type": "quantitative", "scale": {"domain": [-4, 4], "nice": false}, "axis": {"values": [-4,-3,-2,-1,0,1,2,3,4], "format": "d", "title": "Eꜰ", "titleFontStyle": "italic"}},
     "order": {"field": "i", "type": "quantitative"}}},
   {"data": {"values": [{"C": -3.0, "E": 3.62, "t": "d)"}]}, "mark": {"type": "text", "font": "DejaVu Sans", "fontWeight": "bold", "fontSize": 46, "align": "left", "baseline": "middle", "color": "#000000"},
    "encoding": {"x": {"field": "C", "type": "quantitative"}, "y": {"field": "E", "type": "quantitative"}, "text": {"field": "t"}}}
  ]},
  {"width": 444, "height": 664, "layer": [
    {"data": {"name": "ebands"}, "mark": {"type": "rect", "color": "#0000ff"},
     "encoding": {"x": {"datum": 0, "type": "quantitative", "scale": {"domain": [-0.05, 1.05], "nice": false, "zero": false}, "axis": {"values": [0, 0.25, 0.5, 0.75, 1], "format": ".2f", "title": "δ/2π", "titleFontStyle": "italic"}}, "x2": {"datum": 1},
      "y": {"field": "lo", "type": "quantitative", "scale": {"domain": [-4, 4], "nice": false}, "axis": {"values": [-4,-3,-2,-1,0,1,2,3,4], "labels": false, "title": null}}, "y2": {"field": "hi"}}},
    {"data": {"name": "ethin"}, "mark": {"type": "line", "color": "#0000ff", "strokeWidth": 1.6},
     "encoding": {"x": {"field": "d", "type": "quantitative", "scale": {"domain": [-0.05, 1.05], "nice": false, "zero": false}, "axis": {"values": [0, 0.25, 0.5, 0.75, 1], "format": ".2f", "title": "δ/2π", "titleFontStyle": "italic"}},
      "y": {"field": "E", "type": "quantitative", "scale": {"domain": [-4, 4], "nice": false}, "axis": {"values": [-4,-3,-2,-1,0,1,2,3,4], "labels": false, "title": null}}, "detail": {"field": "id"}}},
    {"data": {"values": [{"d": 0, "E": 0}, {"d": 1, "E": 0}]}, "mark": {"type": "line", "color": "#ff0000", "strokeWidth": 1.6},
     "encoding": {"x": {"field": "d", "type": "quantitative"}, "y": {"field": "E", "type": "quantitative", "scale": {"domain": [-4, 4], "nice": false}, "axis": {"values": [-4,-3,-2,-1,0,1,2,3,4], "labels": false, "title": null}}}},
    {"data": {"values": [{"d": 0.079, "E": 3.62, "t": "e)"}]}, "mark": {"type": "text", "font": "DejaVu Sans", "fontWeight": "bold", "fontSize": 46, "align": "left", "baseline": "middle", "color": "#000000"},
     "encoding": {"x": {"field": "d", "type": "quantitative"}, "y": {"field": "E", "type": "quantitative", "scale": {"domain": [-4, 4], "nice": false}, "axis": {"values": [-4,-3,-2,-1,0,1,2,3,4], "labels": false, "title": null}}, "text": {"field": "t"}}}
  ]},
  {"width": 444, "height": 221, "view": {"stroke": null}, "data": {"name": "blank"}, "mark": {"type": "point", "opacity": 0}},
  {"width": 444, "height": 221, "layer": [
    {"data": {"name": "cW"}, "mark": {"type": "line", "color": "#ff0000", "strokeWidth": 1.8},
     "encoding": {"x": {"field": "d", "type": "quantitative", "scale": {"domain": [-0.05, 1.05], "nice": false, "zero": false}, "axis": {"values": [0, 0.25, 0.5, 0.75, 1], "format": ".2f", "title": "δ/2π", "titleFontStyle": "italic"}},
      "y": {"field": "W", "type": "quantitative", "scale": {"domain": [-0.05, 1.05], "nice": false, "zero": false}, "axis": {"values": [0, 0.5, 1], "format": ".1f", "title": "W"}}}},
    {"data": {"values": [{"d": 0.086, "W": 0.78, "t": "c)"}]}, "mark": {"type": "text", "font": "DejaVu Sans", "fontWeight": "bold", "fontSize": 46, "align": "left", "baseline": "middle", "color": "#000000"},
     "encoding": {"x": {"field": "d", "type": "quantitative"}, "y": {"field": "W", "type": "quantitative"}, "text": {"field": "t"}}}
  ]},
  {"width": 77, "height": 221, "view": {"stroke": null}, "data": {"name": "blank"}, "mark": {"type": "point", "opacity": 0}},
  {"width": 444, "height": 221, "view": {"stroke": null}, "data": {"name": "blank"}, "mark": {"type": "point", "opacity": 0}},
  {"width": 444, "height": 221, "layer": [
    {"data": {"name": "fW"}, "mark": {"type": "line", "color": "#ff0000", "strokeWidth": 1.8},
     "encoding": {"x": {"field": "d", "type": "quantitative", "scale": {"domain": [-0.05, 1.05], "nice": false, "zero": false}, "axis": {"values": [0, 0.25, 0.5, 0.75, 1], "format": ".2f", "title": "δ/2π", "titleFontStyle": "italic"}},
      "y": {"field": "W", "type": "quantitative", "scale": {"domain": [-0.1, 1.1], "nice": false, "zero": false}, "axis": {"values": [0, 0.5, 1], "format": ".1f", "title": "W"}}}},
    {"data": {"values": [{"d": 0.079, "W": 0.807, "t": "f)"}]}, "mark": {"type": "text", "font": "DejaVu Sans", "fontWeight": "bold", "fontSize": 46, "align": "left", "baseline": "middle", "color": "#000000"},
     "encoding": {"x": {"field": "d", "type": "quantitative"}, "y": {"field": "W", "type": "quantitative"}, "text": {"field": "t"}}}
  ]}
]
}
